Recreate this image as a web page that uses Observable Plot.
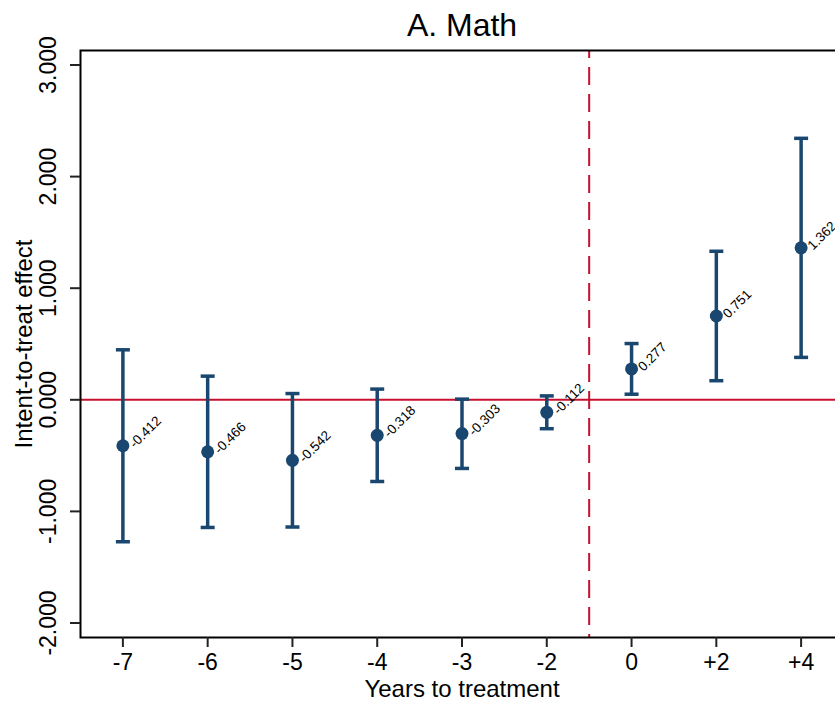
<!DOCTYPE html>
<html>
<head>
<meta charset="utf-8">
<script src="https://cdn.jsdelivr.net/npm/d3@7"></script>
<script src="https://cdn.jsdelivr.net/npm/@observablehq/plot@0.6"></script>
<style>
  html, body { margin: 0; padding: 0; background: #fff; overflow: hidden; }
  #wrap { width: 835px; height: 703px; overflow: hidden; }
  #wrap svg { max-width: none !important; display: block; }
</style>
</head>
<body>
<div id="wrap"></div>
<script>
// ---- data ----
const periods   = ["-7", "-6", "-5", "-4", "-3", "-2", "0", "+2", "+4"];
const estimates = [-0.412, -0.466, -0.542, -0.318, -0.303, -0.112, 0.277, 0.751, 1.362];
const lower     = [-1.272, -1.144, -1.140, -0.732, -0.615, -0.259, 0.050, 0.171, 0.380];
const upper     = [ 0.448,  0.212,  0.056,  0.096,  0.006,  0.035, 0.504, 1.331, 2.343];
const yTicks    = [-2, -1, 0, 1, 2, 3];
const treatmentPosition = 5.5; // year -1, between "-2" and "0"
const title = "A. Math";
const xTitle = "Years to treatment";
const yTitle = "Intent-to-treat effect";

const data = periods.map((p, i) => ({i, period: p, est: estimates[i], lo: lower[i], hi: upper[i]}));

const navy = "#1a476f";
const red = "#c8102e";

const capSymbol = {
  draw(context, size) {
    const r = Math.sqrt(size / Math.PI);
    context.moveTo(-r, 0);
    context.lineTo(r, 0);
  }
};

const chart = Plot.plot({
  width: 845,
  height: 703,
  marginLeft: 80,
  marginRight: 2,
  marginTop: 50,
  marginBottom: 66,
  style: {fontFamily: "'Liberation Sans', Arial, sans-serif", background: "#fff", color: "#000", maxWidth: "none"},
  x: {domain: [-0.5, 8.5]},
  y: {domain: [-2.130, 3.130]},
  marks: [
    Plot.ruleY([0], {stroke: red, strokeWidth: 2}),
    Plot.ruleX([treatmentPosition], {stroke: red, strokeWidth: 2, strokeDasharray: "18,9", strokeDashoffset: 10}),
    Plot.ruleX(data, {x: "i", y1: "lo", y2: "hi", stroke: navy, strokeWidth: 3.5}),
    Plot.dot(data, {x: "i", y: "lo", symbol: capSymbol, r: 7, stroke: navy, strokeWidth: 3.5, fill: "none"}),
    Plot.dot(data, {x: "i", y: "hi", symbol: capSymbol, r: 7, stroke: navy, strokeWidth: 3.5, fill: "none"}),
    Plot.dot(data, {x: "i", y: "est", r: 6.5, fill: navy, stroke: null}),
    Plot.text(data, {x: "i", y: "est", text: d => d.est.toFixed(3), rotate: -45, textAnchor: "start",
      lineAnchor: "bottom", dx: 12, dy: 3, fontSize: 13.5, fill: "#000"}),
    Plot.frame({stroke: "#000", strokeWidth: 2}),
    Plot.axisX({ticks: d3.range(periods.length), tickFormat: i => periods[i], tickSize: 10, tickPadding: 6,
      fontSize: 23, label: null, stroke: "#222", strokeWidth: 2}),
    Plot.axisY({ticks: yTicks, tickFormat: d => d.toFixed(3), tickRotate: -90, tickSize: 10, tickPadding: 15,
      fontSize: 23, label: null, stroke: "#222", strokeWidth: 2}),
    Plot.text([xTitle], {frameAnchor: "bottom", lineAnchor: "bottom", dy: 59, fontSize: 24, fill: "#000"}),
    Plot.text([yTitle], {frameAnchor: "left", textAnchor: "middle", rotate: -90, lineAnchor: "bottom", dx: -49, fontSize: 24, fill: "#000"}),
    Plot.text([title], {frameAnchor: "top", lineAnchor: "bottom", dy: -15, fontSize: 32, fill: "#000"})
  ]
});
document.getElementById("wrap").appendChild(chart);
</script>
</body>
</html>
